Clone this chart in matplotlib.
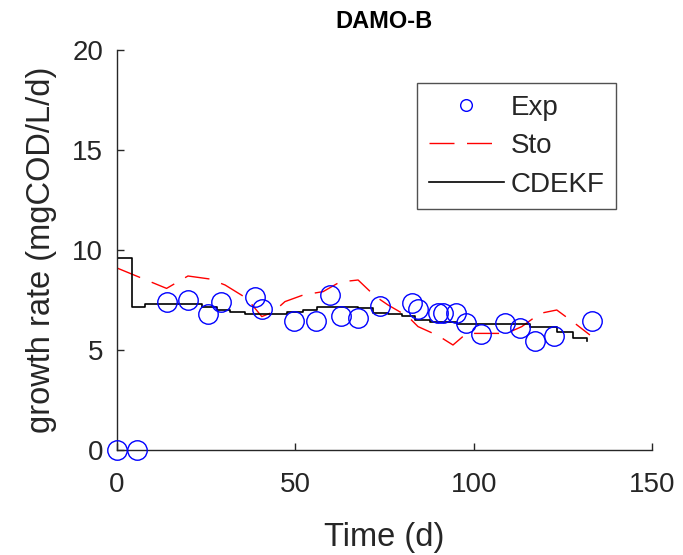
import matplotlib
matplotlib.use("Agg")
import matplotlib.pyplot as plt

plt.rcParams["font.family"] = ["Liberation Sans", "DejaVu Sans"]

# experimental points
exp_t = [0, 5.6, 14.0, 19.9, 25.5, 29.2, 38.7, 40.6, 49.6, 55.8, 59.7, 62.8, 67.6,
         73.7, 82.7, 84.4, 90.0, 91.4, 95.0, 97.8, 102.0, 108.8, 113.0, 117.2,
         122.5, 133.2]
exp_y = [0, 0, 7.4, 7.5, 6.8, 7.4, 7.65, 7.05, 6.45, 6.45, 7.75, 6.7, 6.6,
         7.2, 7.35, 7.05, 6.85, 6.85, 6.85, 6.35, 5.8, 6.35, 6.1, 5.45,
         5.7, 6.45]

# stochastic model
sto_t = [0, 13.9, 19.9, 26, 30.3, 36.4, 40.6, 43.8, 47.1, 52.2, 57.8, 62.5, 67.6,
         72.3, 76, 81.6, 84.4, 90, 94.2, 98, 103.6, 109.2, 113.5, 118.6, 123.3,
         128.4, 132.6]
sto_y = [9.1, 8.08, 8.7, 8.55, 8.25, 7.58, 6.67, 6.9, 7.42, 7.75, 7.92, 8.4, 8.5,
         7.7, 7.25, 6.67, 6.17, 5.72, 5.25, 5.83, 5.83, 5.83, 6.17, 6.83, 7.0,
         6.33, 5.75]

# CDEKF estimate (piecewise constant)
ekf_t = [0, 4.1, 7.9, 23.7, 28, 31.7, 35.9, 47.6, 52.2, 56, 67.7, 71.9, 76.1,
         79.8, 83.5, 87.8, 95.2, 115.8, 123.3, 127.9, 131.7]
ekf_y = [9.6, 7.17, 7.3, 7.17, 7.0, 6.92, 6.8, 6.88, 7.0, 7.17, 7.08, 6.87, 6.8,
         6.7, 6.5, 6.4, 6.3, 6.17, 5.88, 5.58, 5.45]

ink = "#262626"

fig = plt.figure(figsize=(6.83, 5.55), dpi=100)
ax = fig.add_axes([0.1713, 0.1892, 0.7833, 0.7207])

ax.plot(exp_t, exp_y, "o", ms=14, mfc="none", mec="blue", mew=1.0,
        label="Exp", clip_on=False, zorder=4)
ax.plot(sto_t, sto_y, color="red", lw=1.0, dashes=(18, 9), label="Sto")
ax.plot(ekf_t, ekf_y, color="black", lw=1.2, drawstyle="steps-post", label="CDEKF")

ax.set_xlim(0, 150)
ax.set_ylim(0, 20)
ax.set_xticks([0, 50, 100, 150])
ax.set_yticks([0, 5, 10, 15, 20])
for s in ("top", "right"):
    ax.spines[s].set_visible(False)
for s in ("left", "bottom"):
    ax.spines[s].set_color(ink)
    ax.spines[s].set_linewidth(1.0)
ax.tick_params(direction="in", length=5, width=1.0, colors=ink, labelsize=20)
ax.tick_params(axis="x", pad=16)
ax.tick_params(axis="y", pad=10)

ax.set_xlabel("Time (d)", fontsize=23.5, color=ink, labelpad=17)
ax.set_ylabel("growth rate (mgCOD/L/d)", fontsize=23.5, color=ink, labelpad=11)
ax.set_title("DAMO-B", fontsize=17, fontweight="bold", pad=16)

leg = ax.legend(loc="upper left", bbox_to_anchor=(0.561, 0.9175), borderaxespad=0,
                fontsize=20, frameon=True, fancybox=False, handlelength=2.7,
                handletextpad=0.25, labelspacing=0.45, borderpad=0.42,
                markerscale=0.6)
leg.get_frame().set_edgecolor(ink)
leg.get_frame().set_linewidth(1.0)
for t in leg.get_texts():
    t.set_color(ink)

fig.savefig("out.png", dpi=100)
